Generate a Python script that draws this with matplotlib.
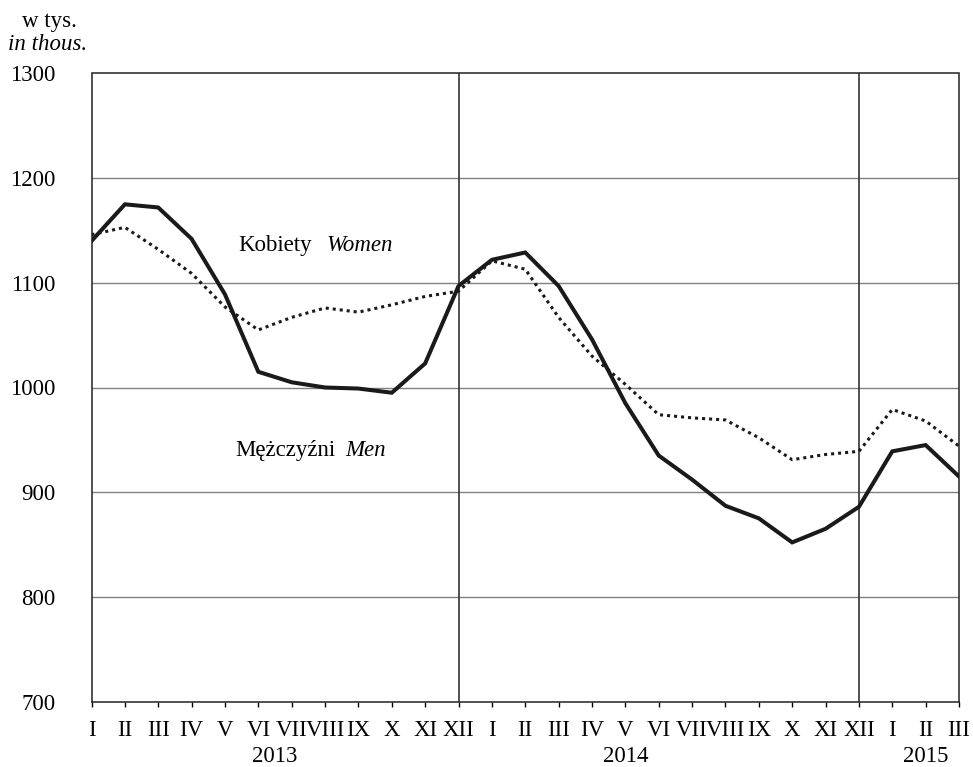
import matplotlib.pyplot as plt

# data: registered unemployed, thousands
months = ['I', 'II', 'III', 'IV', 'V', 'VI', 'VII', 'VIII', 'IX', 'X', 'XI', 'XII',
          'I', 'II', 'III', 'IV', 'V', 'VI', 'VII', 'VIII', 'IX', 'X', 'XI', 'XII',
          'I', 'II', 'III']
years = ['2013', '2014', '2015']
year_pos = [5.5, 16, 25]
year_breaks = [11, 23]
yticks = [700, 800, 900, 1000, 1100, 1200, 1300]

men = [1140, 1175, 1172, 1142, 1089, 1015, 1005, 1000, 999, 995, 1023, 1097,
       1122, 1129, 1097, 1046, 985, 935, 912, 887, 875, 852, 865, 886,
       939, 945, 915]
women = [1146, 1153, 1132, 1109, 1077, 1055, 1067, 1076, 1072, 1079, 1087, 1092,
         1121, 1113, 1067, 1030, 1003, 974, 971, 969, 952, 931, 936, 939,
         979, 968, 944]

plt.rcParams['font.family'] = ['Liberation Serif', 'DejaVu Serif']
fs = 16.5

W, H = 973, 767
fig = plt.figure(figsize=(W / 100, H / 100), dpi=100)
ax = fig.add_axes([91.5 / W, 1 - 701.5 / H, (959 - 91.5) / W, (701.5 - 73.5) / H])

x = list(range(len(months)))
ax.plot(x, women, color='#1a1a1a', lw=2.2, linestyle=(0, (1, 1.3)), zorder=3)
ax.plot(x, men, color='#1a1a1a', lw=2.9, solid_joinstyle='miter', zorder=4)

ax.set_xlim(0, len(months) - 1)
ax.set_ylim(yticks[0], yticks[-1])
ax.set_yticks(yticks)
# inner gridlines only, the frame covers top and bottom
for v in yticks[1:-1]:
    ax.axhline(v, color='#808080', lw=1.0, zorder=1)
for b in year_breaks:
    ax.axvline(b, color='#333333', lw=1.2, zorder=2)

ax.set_xticks(x)
ax.set_xticklabels(months, fontsize=fs)
ax.tick_params(axis='x', direction='out', length=3.5, width=1, pad=9.5)
ax.tick_params(axis='y', length=0, pad=26, labelsize=fs)
for s in ax.spines.values():
    s.set_linewidth(1.1)
    s.set_color('#222222')

# year labels under month labels
for yr, p in zip(years, year_pos):
    ax.text(p, -0.087, yr, transform=ax.get_xaxis_transform(), ha='center',
            va='center', fontsize=fs)

# unit label
fig.text(49 / W, 1 - 21 / H, 'w tys.', ha='center', va='center', fontsize=fs)
fig.text(48 / W, 1 - 45 / H, 'in thous.', ha='center', va='center', fontsize=fs, style='italic')

# series labels
ax.text(4.4, 1136, 'Kobiety', ha='left', va='center', fontsize=fs)
ax.text(7.05, 1136, 'Women', ha='left', va='center', fontsize=fs, style='italic')
ax.text(4.3, 940, 'Mężczyźni', ha='left', va='center', fontsize=fs)
ax.text(7.6, 940, 'Men', ha='left', va='center', fontsize=fs, style='italic')

fig.savefig('out.png', dpi=100)
